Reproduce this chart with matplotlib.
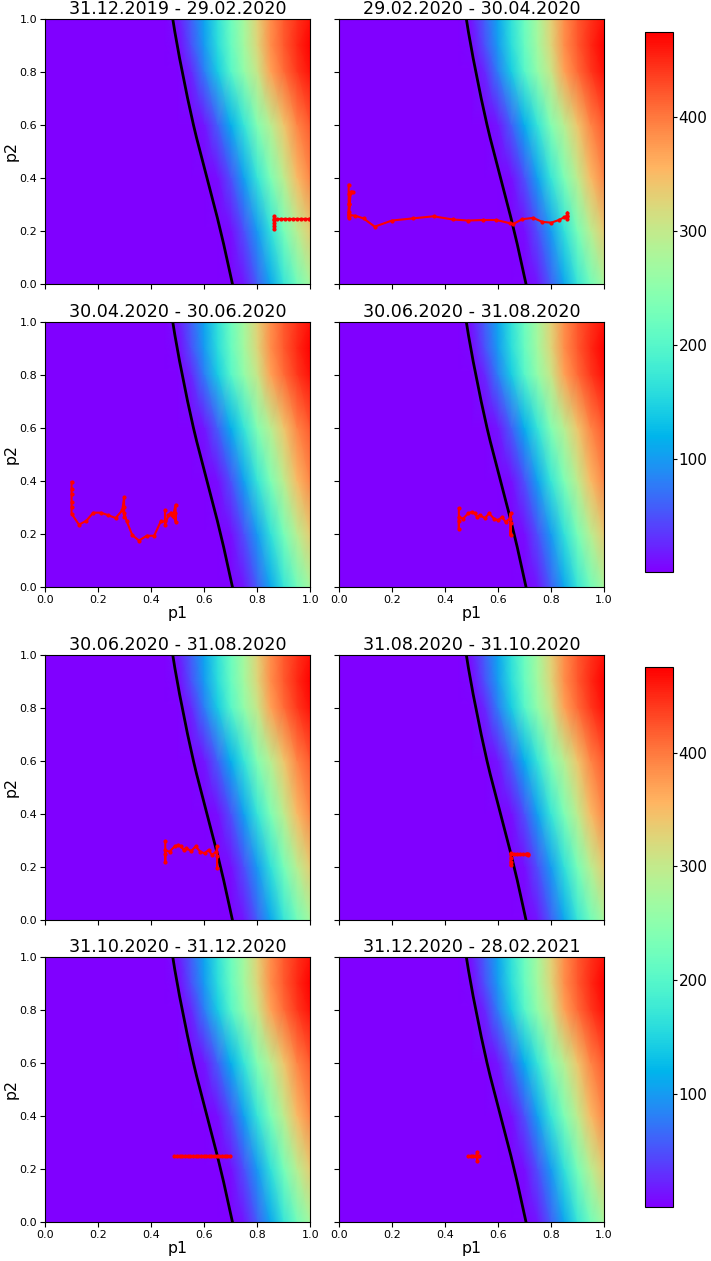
import numpy as np
import matplotlib
matplotlib.use('Agg')
import matplotlib.pyplot as plt

# Grille de la carte de fond
grid_p1 = [0.0, 0.45, 0.5, 0.55, 0.6, 0.65, 0.7, 0.75, 0.8, 0.85, 0.9, 0.95, 1.0]
grid_p2 = [0.0, 0.2, 0.4, 0.6, 0.8, 0.9, 1.0]
heat = [
    [0, 0, 0, 0, 0, 0, 0, 15, 60, 110, 170, 225, 275],
    [0, 0, 0, 0, 0, 0, 10, 50, 100, 165, 230, 290, 335],
    [0, 0, 0, 0, 0, 10, 50, 105, 170, 235, 295, 350, 390],
    [0, 0, 0, 0, 15, 60, 115, 170, 240, 290, 340, 390, 420],
    [0, 0, 0, 25, 80, 140, 200, 255, 305, 370, 410, 440, 465],
    [0, 0, 5, 50, 100, 160, 215, 270, 325, 385, 420, 450, 475],
    [0, 0, 15, 60, 110, 165, 220, 275, 330, 385, 420, 445, 465],
]

# Courbe noire (seuil)
curve_p2 = [0.0, 0.05, 0.1, 0.15, 0.2, 0.25, 0.3, 0.35, 0.4, 0.45, 0.5,
            0.55, 0.6, 0.65, 0.7, 0.75, 0.8, 0.85, 0.9, 0.95, 1.0]
curve_p1 = [0.706, 0.695, 0.684, 0.673, 0.661, 0.649, 0.636, 0.623, 0.610, 0.597, 0.584,
            0.571, 0.559, 0.548, 0.537, 0.527, 0.517, 0.507, 0.498, 0.489, 0.481]

titles = ['31.12.2019 - 29.02.2020', '29.02.2020 - 30.04.2020',
          '30.04.2020 - 30.06.2020', '30.06.2020 - 31.08.2020',
          '30.06.2020 - 31.08.2020', '31.08.2020 - 31.10.2020',
          '31.10.2020 - 31.12.2020', '31.12.2020 - 28.02.2021']

# Trajectoires rouges
traj1_p1 = [0.861, 0.861, 0.861, 0.861, 0.861, 0.861, 0.875, 0.89, 0.905, 0.92, 0.935,
            0.95, 0.965, 0.98, 0.995, 1.0]
traj1_p2 = [0.207, 0.217, 0.228, 0.24, 0.255, 0.246, 0.246, 0.246, 0.246, 0.246, 0.246,
            0.246, 0.246, 0.246, 0.246, 0.246]

traj2_p1 = [0.038, 0.038, 0.038, 0.038, 0.038, 0.04, 0.045, 0.053, 0.045, 0.04, 0.038,
            0.063, 0.094, 0.136, 0.201, 0.279, 0.358, 0.43, 0.488, 0.543, 0.594,
            0.645, 0.658, 0.692, 0.733, 0.767, 0.801, 0.83, 0.849, 0.862, 0.862,
            0.862, 0.862]
traj2_p2 = [0.374, 0.34, 0.3, 0.27, 0.248, 0.26, 0.345, 0.345, 0.345, 0.3, 0.26,
            0.257, 0.247, 0.216, 0.239, 0.247, 0.255, 0.243, 0.239, 0.241, 0.241,
            0.229, 0.226, 0.244, 0.249, 0.234, 0.231, 0.241, 0.251, 0.257, 0.269,
            0.243, 0.255]

traj3_p1 = [0.1, 0.1, 0.1, 0.1, 0.1, 0.1, 0.128, 0.155, 0.182, 0.211, 0.239, 0.266,
            0.291, 0.298, 0.298, 0.298, 0.298, 0.308, 0.329, 0.354, 0.383, 0.411,
            0.436, 0.452, 0.452, 0.452, 0.465, 0.474, 0.484, 0.492, 0.492, 0.49,
            0.484, 0.478]
traj3_p2 = [0.396, 0.37, 0.35, 0.32, 0.3, 0.276, 0.235, 0.249, 0.28, 0.28, 0.27, 0.26,
            0.289, 0.339, 0.3, 0.264, 0.28, 0.247, 0.195, 0.175, 0.193, 0.193,
            0.247, 0.247, 0.289, 0.235, 0.27, 0.28, 0.276, 0.31, 0.245, 0.28,
            0.262, 0.27]

traj4_p1 = [0.453, 0.453, 0.453, 0.453, 0.469, 0.488, 0.501, 0.513, 0.522, 0.532,
            0.551, 0.567, 0.585, 0.601, 0.616, 0.629, 0.645, 0.648, 0.648, 0.648]
traj4_p2 = [0.296, 0.22, 0.25, 0.262, 0.258, 0.277, 0.283, 0.277, 0.264, 0.27,
            0.26, 0.277, 0.258, 0.251, 0.264, 0.245, 0.258, 0.277, 0.195, 0.24]

traj6_p1 = [0.648, 0.648, 0.648, 0.648, 0.648, 0.66, 0.672, 0.684, 0.696, 0.706,
            0.712, 0.714, 0.71]
traj6_p2 = [0.207, 0.22, 0.235, 0.251, 0.248, 0.248, 0.247, 0.248, 0.247, 0.248,
            0.25, 0.244, 0.247]

traj7_p1 = [0.487, 0.497, 0.507, 0.517, 0.527, 0.537, 0.547, 0.557, 0.567, 0.577,
            0.587, 0.597, 0.607, 0.617, 0.627, 0.637, 0.647, 0.657, 0.667, 0.677,
            0.687, 0.697]
traj7_p2 = [0.248, 0.247, 0.249, 0.247, 0.248, 0.249, 0.247, 0.248, 0.248, 0.247,
            0.249, 0.248, 0.247, 0.248, 0.249, 0.247, 0.248, 0.248, 0.247, 0.249,
            0.248, 0.248]

traj8_p1 = [0.488, 0.498, 0.508, 0.518, 0.522, 0.522, 0.522, 0.53]
traj8_p2 = [0.248, 0.247, 0.248, 0.248, 0.263, 0.229, 0.248, 0.248]

trajs = [(traj1_p1, traj1_p2), (traj2_p1, traj2_p2), (traj3_p1, traj3_p2),
         (traj4_p1, traj4_p2), (traj4_p1, traj4_p2), (traj6_p1, traj6_p2),
         (traj7_p1, traj7_p2), (traj8_p1, traj8_p2)]

vmin, vmax = 1, 475

fig = plt.figure(figsize=(7.11, 12.61), dpi=100)

lefts = [0.0633, 0.4762]
bottoms = [0.7748, 0.5345, 0.2704, 0.0309]
w, h = 0.3734, 0.2105

for k in range(8):
    row, col = k // 2, k % 2
    ax = fig.add_axes([lefts[col], bottoms[row], w, h])
    mesh = ax.pcolormesh(grid_p1, grid_p2, np.array(heat), shading='gouraud',
                         cmap='rainbow', vmin=vmin, vmax=vmax)
    ax.plot(curve_p1, curve_p2, color='k', lw=2)
    tp1, tp2 = trajs[k]
    ax.plot(tp1, tp2, color='r', lw=1.5, marker='.', markersize=4)
    ax.set_xlim(0, 1)
    ax.set_ylim(0, 1)
    ax.set_xticks([0, 0.2, 0.4, 0.6, 0.8, 1.0])
    ax.set_yticks([0, 0.2, 0.4, 0.6, 0.8, 1.0])
    ax.tick_params(labelsize=8, pad=2)
    ax.set_title(titles[k], fontsize=12.6, pad=3)
    if col == 0:
        ax.set_ylabel('p2', fontsize=11.3, labelpad=1)
    else:
        ax.set_yticklabels([])
    if row in (1, 3):
        ax.set_xlabel('p1', fontsize=11.3, labelpad=1)
    else:
        ax.set_xticklabels([])
    if k in (3, 7):
        cax = fig.add_axes([0.9072, 0.5464 if k == 3 else 0.0428, 0.0394, 0.4282])
        cb = fig.colorbar(mesh, cax=cax)
        cb.ax.tick_params(labelsize=11, length=3, pad=1)

fig.savefig('out.png', dpi=100)
